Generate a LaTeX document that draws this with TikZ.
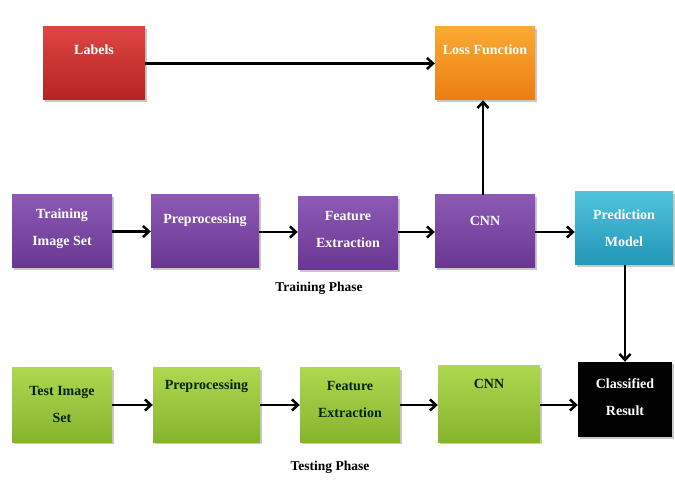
\documentclass[tikz,border=0pt]{standalone}
\usepackage{fontspec}
\setmainfont{Liberation Serif}
\usetikzlibrary{arrows.meta,shadows}
\definecolor{redA}{RGB}{222,70,66}
\definecolor{redB}{RGB}{180,35,35}
\definecolor{orA}{RGB}{250,170,50}
\definecolor{orB}{RGB}{235,125,20}
\definecolor{puA}{RGB}{140,90,180}
\definecolor{puB}{RGB}{105,55,145}
\definecolor{blA}{RGB}{80,195,220}
\definecolor{blB}{RGB}{35,150,185}
\definecolor{grA}{RGB}{175,215,80}
\definecolor{grB}{RGB}{135,180,45}
\begin{document}
\begin{tikzpicture}[x=1pt,y=-1pt,
  boxbase/.style={draw=none, rectangle, inner sep=0pt,
    drop shadow={shadow xshift=2pt, shadow yshift=-2pt, opacity=0.35, fill=black!60}},
  redbox/.style={boxbase, top color=redA, bottom color=redB},
  orbox/.style={boxbase, top color=orA, bottom color=orB},
  pubox/.style={boxbase, top color=puA, bottom color=puB},
  blbox/.style={boxbase, top color=blA, bottom color=blB},
  grbox/.style={boxbase, top color=grA, bottom color=grB},
  bkbox/.style={boxbase, fill=black},
  wtxt/.style={text=white, font=\bfseries\fontsize{14}{27}\selectfont, align=center},
  dtxt/.style={text=black!85!green, font=\bfseries\fontsize{14}{27}\selectfont, align=center},
  phase/.style={text=black, font=\bfseries\fontsize{13.5}{15}\selectfont},
  arr/.style={line width=2.5pt, -{Straight Barb[length=6pt,width=11pt,line width=2.5pt]}}
]
\useasboundingbox (0,0) rectangle (675,486);
\fill[white] (0,0) rectangle (675,486);

% boxes
\path[redbox] (43,27) rectangle (145,100);
\node[minimum width=102pt, minimum height=73pt] (lab) at (94,63.5) {};
\path[orbox] (435,27) rectangle (535,100);
\node[minimum width=100pt, minimum height=73pt] (loss) at (485,63.5) {};

\path[pubox] (12,195) rectangle (112,268);
\node[minimum width=100pt, minimum height=73pt] (tis) at (62,231.5) {};
\path[pubox] (151,195) rectangle (259,268);
\node[minimum width=108pt, minimum height=73pt] (tpre) at (205,231.5) {};
\path[pubox] (298,197) rectangle (398,270);
\node[minimum width=100pt, minimum height=73pt] (tfe) at (348,233.5) {};
\path[pubox] (435,195) rectangle (535,268);
\node[minimum width=100pt, minimum height=73pt] (tcnn) at (485,231.5) {};
\path[blbox] (575,192) rectangle (673,265);
\node[minimum width=98pt, minimum height=73pt] (pred) at (624,228.5) {};

\path[grbox] (12,368) rectangle (112,442);
\node[minimum width=100pt, minimum height=74pt] (eis) at (62,405) {};
\path[grbox] (153,368) rectangle (260,442);
\node[minimum width=107pt, minimum height=74pt] (epre) at (206.5,405) {};
\path[grbox] (300,368) rectangle (400,442);
\node[minimum width=100pt, minimum height=74pt] (efe) at (350,405) {};
\path[grbox] (438,366) rectangle (540,442);
\node[minimum width=102pt, minimum height=76pt] (ecnn) at (489,404) {};
\path[bkbox] (578,362) rectangle (672,437);
\node[minimum width=94pt, minimum height=75pt] (res) at (625,399.5) {};

% texts
\node[wtxt] at (94,50) {Labels};
\node[wtxt] at (485,50) {Loss Function};
\node[wtxt] at (62,229) {Training\\Image Set};
\node[wtxt] at (205,220) {Preprocessing};
\node[wtxt] at (348,229) {Feature\\Extraction};
\node[wtxt] at (485,221) {CNN};
\node[wtxt] at (624,228) {Prediction\\Model};
\node[phase] at (319,288) {Training Phase};

\node[dtxt] at (62,404) {Test Image\\Set};
\node[dtxt] at (206.5,386) {Preprocessing};
\node[dtxt] at (350,399) {Feature\\Extraction};
\node[dtxt] at (489,384) {CNN};
\node[wtxt] at (625,397) {Classified\\Result};
\node[phase] at (330,467) {Testing Phase};

% arrows
\draw[arr] (lab.east) -- (loss.west);
\draw[arr] (tcnn.north -| 483,0) -- (loss.south -| 483,0);
\draw[arr] (tis.east) -- (tpre.west);
\draw[arr] (tpre.east |- 0,232) -- (tfe.west |- 0,232);
\draw[arr] (tfe.east |- 0,232) -- (tcnn.west |- 0,232);
\draw[arr] (tcnn.east |- 0,232) -- (pred.west |- 0,232);
\draw[arr] (pred.south -| res.north) -- (res.north);
\draw[arr] (eis.east) -- (epre.west);
\draw[arr] (epre.east) -- (efe.west);
\draw[arr] (efe.east) -- (ecnn.west |- 0,405);
\draw[arr] (ecnn.east |- 0,405) -- (res.west |- 0,405);
\end{tikzpicture}
\end{document}
